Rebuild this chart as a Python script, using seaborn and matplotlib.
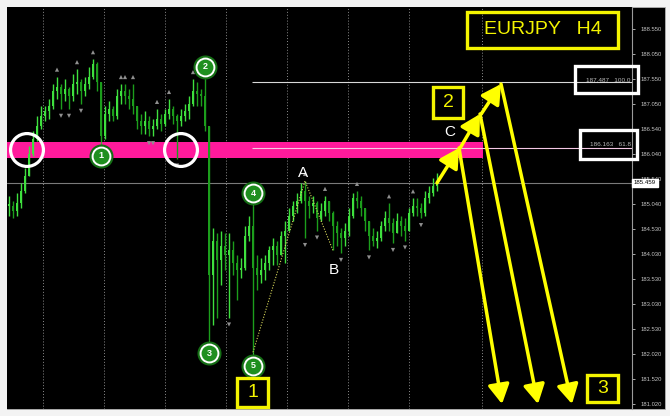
import numpy as np
import pandas as pd
import matplotlib
matplotlib.use("Agg")
import matplotlib.pyplot as plt
from matplotlib.patches import Rectangle
import seaborn as sns

# ---------------- data (EURJPY H4 candles) ----------------
closes = [185.00, 184.90, 185.05, 185.30, 185.60, 186.05, 186.35, 186.60, 186.80, 186.90,
          187.00, 187.30, 187.40, 187.25, 187.35, 187.20, 187.45, 187.50, 187.30, 187.45,
          187.60, 187.85, 187.50, 186.40, 186.85, 186.95, 186.80, 187.20, 187.30, 187.20,
          187.15, 187.00, 186.70, 186.60, 186.70, 186.55, 186.60, 186.75, 186.65, 186.85,
          186.95, 186.80, 186.70, 186.80, 186.90, 187.05, 187.30, 187.25, 187.20, 186.60,
          183.60, 184.30, 183.90, 184.20, 184.00, 184.10, 183.85, 183.70, 183.75, 184.40,
          184.60, 183.75, 183.60, 183.70, 183.85, 184.10, 184.20, 184.00, 184.40, 184.50,
          184.80, 185.00, 185.10, 185.30, 185.10, 185.00, 185.05, 184.75, 184.90, 185.10,
          184.85, 184.60, 184.45, 184.35, 184.50, 184.80, 185.15, 185.10, 184.95, 184.70,
          184.40, 184.30, 184.35, 184.60, 184.75, 184.65, 184.45, 184.70, 184.60, 184.50,
          184.85, 185.00, 184.95, 184.85, 185.15, 185.25, 185.40, 185.46]
highs = [185.20, 185.10, 185.25, 185.45, 185.75, 186.20, 186.50, 186.80, 187.00, 187.00,
         187.15, 187.45, 187.60, 187.45, 187.55, 187.40, 187.65, 187.75, 187.55, 187.60,
         187.80, 187.95, 187.90, 187.50, 187.00, 187.10, 187.00, 187.35, 187.45, 187.45,
         187.35, 187.45, 187.00, 186.85, 186.90, 186.80, 186.75, 186.95, 186.85, 186.95,
         187.15, 187.00, 186.85, 186.95, 187.05, 187.20, 187.55, 187.50, 187.35, 187.55,
         186.60, 184.55, 184.45, 184.50, 184.45, 184.45, 184.30, 184.00, 183.95, 184.60,
         184.80, 185.00, 184.00, 183.95, 184.00, 184.20, 184.35, 184.30, 184.50, 184.70,
         184.95, 185.10, 185.25, 185.45, 185.50, 185.20, 185.20, 185.10, 185.05, 185.20,
         185.10, 184.90, 184.70, 184.55, 184.65, 184.95, 185.25, 185.30, 185.20, 184.95,
         184.70, 184.55, 184.50, 184.70, 184.90, 185.05, 184.75, 184.85, 184.80, 184.75,
         184.95, 185.15, 185.15, 185.05, 185.30, 185.40, 185.55, 185.65]
lows = [184.80, 184.75, 184.80, 184.95, 185.25, 185.60, 186.00, 186.30, 186.55, 186.70,
        186.75, 186.95, 187.15, 186.95, 187.10, 186.95, 187.10, 187.25, 187.05, 187.20,
        187.35, 187.55, 187.30, 186.28, 186.35, 186.70, 186.70, 186.75, 187.05, 187.05,
        186.95, 186.85, 186.55, 186.45, 186.45, 186.40, 186.40, 186.55, 186.50, 186.60,
        186.75, 186.65, 185.95, 186.60, 186.70, 186.75, 187.00, 187.00, 187.00, 186.50,
        182.30, 182.60, 182.75, 183.40, 183.70, 182.75, 183.60, 183.10, 183.55, 183.70,
        184.30, 182.05, 183.30, 183.45, 183.50, 183.70, 183.80, 183.80, 184.00, 183.85,
        184.50, 184.70, 184.85, 185.05, 184.35, 184.75, 184.85, 184.50, 184.70, 184.80,
        184.70, 184.10, 184.20, 184.05, 184.20, 184.40, 184.75, 184.95, 184.80, 184.50,
        184.10, 184.20, 184.15, 184.30, 184.50, 184.50, 184.25, 184.45, 184.40, 184.30,
        184.50, 184.80, 184.80, 184.75, 184.80, 185.05, 185.20, 185.30]

y_ticks = [188.550, 188.050, 187.550, 187.050, 186.540, 186.040, 185.540, 185.040,
           184.530, 184.030, 183.530, 183.030, 182.530, 182.020, 181.520, 181.020]
y_tick_labels = [f"{v:.3f}" for v in y_ticks]
fib_levels = [187.487, 186.163]
fib_pcts = ["100.0", "61.8"]
last_price = 185.459
zone_low, zone_high = 185.96, 186.28
wave_names = ["1", "2", "3", "4", "5"]
wave_bars = [23, 49, 50, 61, 61]
wave_side = ["low", "high", "low", "high", "low"]
title_text = "EURJPY   H4"
scenario_labels = ["1", "2", "3"]
point_labels = ["A", "B", "C"]

# ---------------- figure geometry ----------------
W, H = 670, 416
Y_TOP, Y_BOT = 189.0, 180.91
X_LEFT, X_RIGHT = -0.5, 155.75


def fx(px):
    return px / W


def fy(py):
    return 1 - py / H


def dx(px):
    return (px - 9) / 4.0


def dy(py):
    return Y_TOP - (py - 7) * (Y_TOP - Y_BOT) / 402.0


sns.set_theme(style="dark")
plt.rcParams["font.family"] = ["Liberation Sans", "DejaVu Sans"]

fig = plt.figure(figsize=(W / 100, H / 100), dpi=100)
fig.patch.set_facecolor("#f3f3f3")
fig.patches.append(Rectangle((fx(7), fy(409)), fx(665) - fx(7), fy(7) - fy(409),
                             transform=fig.transFigure, facecolor="black",
                             edgecolor="#b0b0b0", lw=0.6, zorder=-10))
ax = fig.add_axes([fx(7), fy(409), fx(632) - fx(7), fy(7) - fy(409)])
ax.set_zorder(1)
ax.set_facecolor("black")
ax.set_xlim(X_LEFT, X_RIGHT)
ax.set_ylim(Y_BOT, Y_TOP)

c = np.array(closes)
h = np.array(highs)
l = np.array(lows)
o = np.r_[c[0], c[:-1]]
x = np.arange(len(c))
n = len(c)

# vertical dotted grid
for gpx in [43, 104, 165, 226, 287, 348, 409, 482]:
    ax.axvline(dx(gpx), color="#8c8c8c", ls=(0, (1, 2)), lw=0.7, zorder=1)

# pink zone
ax.fill_between([X_LEFT, dx(483)], zone_low, zone_high, color="#ff1a9c", lw=0, zorder=2)

# current price line and fib lines
ax.axhline(last_price, color="#7a7a7a", lw=0.8, zorder=1)
ax.hlines(fib_levels, dx(252), X_RIGHT, colors=["#d8d8d8", "#f4c8e4"], lw=0.8, zorder=4)

# candles
up = c >= o
bull, bear = "#3ee03e", "#1c9e1c"
cols = np.where(up, bull, bear)
ax.vlines(x, l, h, colors=cols, lw=1.0, zorder=3)
bottom = np.minimum(o, c)
height = np.maximum(np.abs(c - o), 0.03)
ax.bar(x, height, bottom=bottom, width=0.6, color=cols, lw=0, zorder=3)

# fractal marks (Bill Williams style)
hi_idx = [i for i in range(2, n - 2) if h[i] == h[i - 2:i + 3].max()]
lo_idx = [i for i in range(2, n - 2) if l[i] == l[i - 2:i + 3].min()]
frac = pd.DataFrame({
    "x": hi_idx + lo_idx,
    "y": list(h[hi_idx] + 0.14) + list(l[lo_idx] - 0.14),
    "kind": ["up"] * len(hi_idx) + ["down"] * len(lo_idx),
})
sns.scatterplot(data=frac, x="x", y="y", style="kind", markers={"up": "^", "down": "v"},
                s=9, color="#8f8f8f", linewidth=0, legend=False, ax=ax, zorder=4)

# dotted yellow wave lines 5 -> A -> B
ax.plot([61, 74, 81], [l[61], h[74], l[81]], ls=(0, (1, 1.5)), color="#d6d65a", lw=0.8, zorder=5)

# white circles
sns.scatterplot(x=[dx(27), dx(181)], y=[dy(150), dy(150)], s=560, facecolor="none",
                edgecolor="white", linewidth=2.3, ax=ax, zorder=6, legend=False)

# wave number markers
wx, wy = [], []
for b, side in zip(wave_bars, wave_side):
    if side == "high":
        yy = h[b] + 0.25
        ax.vlines(b, h[b], yy, color="#2fbf2f", lw=0.8, zorder=5)
    else:
        yy = l[b] - 0.27
        ax.vlines(b, yy, l[b], color="#2fbf2f", lw=0.8, zorder=5)
    wx.append(b)
    wy.append(yy)
sns.scatterplot(x=wx, y=wy, s=300, color="#146e14", linewidth=0, ax=ax, zorder=7, legend=False)
sns.scatterplot(x=wx, y=wy, s=165, color="#1f8f1f", edgecolor="white", linewidth=1.4,
                ax=ax, zorder=8, legend=False)
for name, xx, yy in zip(wave_names, wx, wy):
    ax.text(xx, yy, name, color="white", fontsize=6.5, fontweight="bold",
            ha="center", va="center", zorder=9)

# letters A B C
ax.text(dx(303), dy(173), point_labels[0], color="white", fontsize=11, ha="center", va="center", zorder=9)
ax.text(dx(334), dy(270), point_labels[1], color="white", fontsize=11, ha="center", va="center", zorder=9)
ax.text(dx(450), dy(132), point_labels[2], color="white", fontsize=11, ha="center", va="center", zorder=9)

# yellow scenario arrows
yel = "#ffff00"
p0 = (n - 1, c[-1])
p1 = (dx(459), fib_levels[1])
p2 = (dx(480), dy(114))
p3 = (dx(501), dy(84))
aprops = dict(arrowstyle="-|>,head_length=0.9,head_width=0.5", color=yel, lw=2.5,
              mutation_scale=13, shrinkA=0, shrinkB=0)
for a, b_ in [(p0, p1), ((p1[0] + 0.3, p1[1]), p2), ((p2[0] + 0.3, p2[1]), p3)]:
    ax.annotate("", xy=b_, xytext=a, arrowprops=aprops, zorder=10)
for a, tx in [(p1, 502), (p2, 538), (p3, 572)]:
    ax.annotate("", xy=(dx(tx), dy(404)), xytext=a, arrowprops=aprops, zorder=10)

# axis styling
ax.yaxis.tick_right()
ax.set_yticks(y_ticks)
ax.set_yticklabels(y_tick_labels)
ax.tick_params(axis="y", colors="#c4c4c4", labelsize=4.2, length=2, width=0.6, pad=4.5)
ax.tick_params(axis="x", bottom=False, labelbottom=False)
ax.set_xticks([])
ax.grid(False)
for s in ["left", "top", "bottom"]:
    ax.spines[s].set_visible(False)
ax.spines["right"].set_color("#9a9a9a")
ax.spines["right"].set_linewidth(0.8)
ax.set_xlabel("")
ax.set_ylabel("")

# yellow boxes
def ybox(x0, y0, x1, y1, text, size):
    fig.patches.append(Rectangle((fx(x0), fy(y1)), fx(x1) - fx(x0), fy(y0) - fy(y1),
                                 transform=fig.transFigure, fill=False,
                                 edgecolor="#f4f400", lw=2.4, zorder=20))
    fig.text(fx((x0 + x1) / 2), fy((y0 + y1) / 2), text, color="#f4f400", fontsize=size,
             ha="center", va="center", zorder=21)


ybox(467, 12, 618, 48, title_text, 14)
ybox(237, 378, 268, 407, scenario_labels[0], 14)
ybox(433, 87, 463, 118, scenario_labels[1], 14)
ybox(587, 375, 618, 402, scenario_labels[2], 14)

# white fib boxes
for (x0, y0, x1, y1), lev, pct in zip([(575, 66, 638, 93), (580, 130, 637, 159)], fib_levels, fib_pcts):
    fig.patches.append(Rectangle((fx(x0), fy(y1)), fx(x1) - fx(x0), fy(y0) - fy(y1),
                                 transform=fig.transFigure, fill=False,
                                 edgecolor="white", lw=2.4, zorder=20))
    fig.text(fx(631), fy((y0 + y1) / 2 + 0.5), f"{lev:.3f}   {pct}", color="#b8b8b8",
             fontsize=4.6, ha="right", va="center", zorder=21)

# current price label
fig.text(fx(634), fy(183), f"{last_price:.3f}", color="black", fontsize=4.4,
         ha="left", va="center", zorder=22,
         bbox=dict(boxstyle="square,pad=0.25", facecolor="white", edgecolor="white"))

fig.savefig("out.png", dpi=100, facecolor=fig.get_facecolor())
